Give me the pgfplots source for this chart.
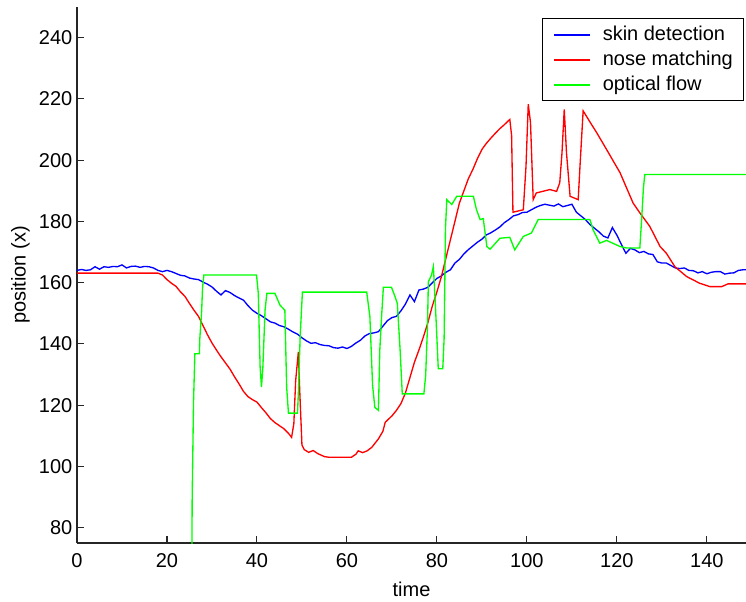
\documentclass[border=0pt]{standalone}
\usepackage{fontspec}
\setmainfont{Liberation Sans}
\usepackage{pgfplots}
\pgfplotsset{compat=1.18}
\definecolor{mblue}{rgb}{0,0,1}
\definecolor{mred}{rgb}{1,0,0}
\definecolor{mgreen}{rgb}{0,1,0}
\begin{document}
\begin{tikzpicture}
\useasboundingbox (0,0) rectangle (559.5pt,450.75pt);
\begin{axis}[
  at={(57.75pt,43.5pt)}, anchor=south west,
  width=501.75pt, height=402pt, scale only axis,
  xmin=0, xmax=148.7, ymin=75, ymax=250,
  xtick={0,20,...,140}, ytick={80,100,...,240},
  axis x line=bottom, axis y line=left,
  axis line style={-, line width=0.9pt, black!85},
  tick align=inside, major tick length=5pt,
  tick style={line width=0.8pt, black!85},
  /pgf/number format/assume math mode=true,
  tick label style={font=\fontsize{15}{18}\selectfont},
  xticklabel style={yshift=-4pt},
  label style={font=\fontsize{15}{18}\selectfont},
  xlabel={time}, ylabel={position (x)},
  xlabel style={yshift=-4.5pt},
  clip=true,
  legend cell align=left,
  legend image code/.code={\draw[#1, line width=1pt] (0pt,0pt) -- (27pt,0pt);},
  legend style={at={(1,1)}, anchor=north east, xshift=-1.5pt, yshift=-8.5pt,
    draw=black, line width=0.75pt, inner xsep=8pt, inner ysep=5pt,
    row sep=4.75pt, column sep=9pt,
    nodes={inner sep=0pt, text height=11pt, text depth=3pt, font=\fontsize{15}{18}\selectfont}},
]
\addplot[mblue, line width=1pt] coordinates {
(0,164.0)(1,164.3)(2,164.0)(3,164.2)(4,165.2)(5,164.4)(6,165.2)(7,165.0)(8,165.3)(9,165.2)
(10,165.8)(11,164.8)(12,165.3)(13,165.4)(14,165.0)(15,165.3)(16,165.2)(17,164.8)(18,164.0)(19,163.6)
(20,164.0)(21,163.6)(22,163.0)(23,162.4)(24,162.2)(25,161.5)(26,161.2)(27,161.0)(28,160.2)(29,159.5)
(30,158.6)(31,157.2)(32,156.0)(33,157.4)(34,156.8)(35,155.8)(36,155.0)(37,154.3)(38,152.5)(39,151.0)
(40,150.0)(41,149.2)(42,148.2)(43,147.2)(44,146.8)(45,146.0)(46,145.6)(47,144.8)(48,143.9)(49,143.2)
(50,142.0)(51,141.0)(52,140.2)(53,140.4)(54,139.8)(55,139.5)(56,139.4)(57,138.8)(58,138.6)(59,139.0)
(60,138.5)(61,139.2)(62,140.3)(63,141.2)(64,142.6)(65,143.4)(66,143.6)(67,144.0)(68,145.8)(69,147.6)
(70,148.6)(71,149.0)(72,150.8)(73,153.0)(74,156.0)(75,153.8)(76,157.6)(77,157.9)(78,158.5)(79,160.0)
(80,161.4)(81,162.2)(82,163.4)(83,164.2)(84,166.4)(85,167.6)(86,169.4)(87,170.8)(88,172.0)(89,173.2)
(90,174.2)(91,175.6)(92,176.3)(93,177.2)(94,178.2)(95,179.6)(96,180.6)(97,181.8)(98,182.2)(99,182.9)
(100,183.0)(101,183.8)(102,184.6)(103,185.2)(104,185.6)(105,185.3)(106,185.0)(107,185.7)(108,184.8)(109,185.2)
(110,185.6)(111,183.0)(112,181.8)(113,180.6)(114,179.0)(115,177.8)(116,176.6)(117,175.2)(118,174.6)(119,178.0)
(120,175.5)(121,172.5)(122,169.6)(123,171.2)(124,170.7)(125,169.8)(126,170.2)(127,169.4)(128,169.2)(129,166.8)
(130,166.4)(131,166.4)(132,165.6)(133,164.8)(134,164.6)(135,164.8)(136,164.0)(137,163.9)(138,163.2)(139,163.6)
(140,162.9)(141,163.4)(142,163.6)(143,163.6)(144,162.8)(145,163.1)(146,163.2)(147,164.0)(148,164.2)(149,164.2)
};
\addplot[mred, line width=1pt] coordinates {
(0,163.1)(18,163.1)(19,162.5)(20,161.0)(21,159.8)(22,158.8)(23,157.0)(24,155.5)(25,153.2)(26,151.0)
(27,149.0)(28,146.0)(29,143.0)(30,140.3)(31,138.0)(32,135.8)(33,133.8)(34,131.8)(35,129.3)(36,127.0)
(37,124.5)(38,122.8)(39,121.8)(40,121.0)(41,119.2)(42,117.5)(43,115.6)(44,114.3)(45,113.3)(46,112.3)
(47,110.8)(47.7,109.5)(48.2,114)(48.6,128)(49.2,137.4)(49.5,125)(50.0,107)(50.5,105.5)(51.5,104.6)(52.5,105.2)
(53.5,104.2)(55,103.2)(56,103)(61,103)(62,104)(62.5,105.1)(63.5,104.5)(64.5,105.1)(65.5,106.2)(67,109)
(68,111.5)(68.5,114.4)(70,116.5)(71,118.3)(72,120.5)(73,124)(74,129)(75,134)(76,138)(77,142.3)
(78,147)(79,152.5)(80,157)(81,162)(82,168)(83,174)(84,180)(85,186)(86,190)(87,194)
(88,197)(89,200.5)(90,203.5)(91,205.5)(92,207.2)(93,208.8)(94,210.3)(95,211.6)(96.2,213.3)(96.6,208)
(96.9,183)(99.2,183.8)(99.8,198)(100.3,218.3)(100.8,212.3)(101.4,187.1)(102.1,189.3)(105.1,190.4)(106.6,189.8)(107.3,192.6)
(107.8,202.4)(108.3,216.6)(108.8,202.4)(109.6,188.2)(111.4,187.1)(111.8,198)(112.5,216.1)(114,212.5)(115.5,209)(117.7,203.5)
(120.7,195.9)(123.6,186)(125.1,182.8)(127.3,178.4)(129.6,171.8)(131,169.6)(132.9,165.2)(135.5,162)(138.4,159.8)(140.7,158.7)
(143.3,158.7)(144.7,159.6)(149,159.6)
};
\addplot[mgreen, line width=1pt] coordinates {
(25.5,60)(25.6,89.8)(25.9,121)(26.2,136.8)(27.2,136.8)(27.3,141.8)(27.7,150.5)(27.9,158.2)(28.2,162.5)(39.9,162.5)
(40.3,156.5)(40.7,132.5)(41.0,125.9)(41.3,131.9)(41.8,151)(42.2,156.5)(44.0,156.5)(45.1,152.7)(46.2,151)(46.6,125.9)
(47.0,117.4)(49.0,117.4)(49.2,123.7)(49.6,142.3)(50.1,156.9)(64.4,156.9)(65.1,148.9)(65.7,126.5)(66.2,119.3)(67.0,118.3)
(67.3,137.9)(67.7,148.9)(68.1,158.5)(69.9,158.5)(70.7,155.4)(71.2,153.2)(71.8,138.5)(72.3,123.7)(77.1,123.7)(77.5,129.7)
(77.9,145.6)(78.1,160.3)(78.8,162.5)(79.2,165.2)(79.4,160.3)(79.8,148.3)(80.3,131.9)(81.3,131.9)(81.6,141.8)(81.9,177.8)
(82.2,187.1)(83.3,185.5)(84.4,188.2)(88.1,188.2)(88.8,183.8)(89.6,180.6)(90.3,180.9)(91.1,171.8)(91.8,170.9)(94.0,174.5)
(96.2,174.8)(97.3,170.7)(99.2,175.1)(101.0,176.2)(102.5,180.6)(114.0,180.6)(114.7,177.3)(116.2,172.9)(117.7,173.8)(120.7,171.8)
(122.2,171.3)(125.1,171.3)(125.5,180.6)(125.9,190.9)(126.2,195.3)(149,195.3)
};
\legend{skin detection, nose matching, optical flow}
\end{axis}
\end{tikzpicture}
\end{document}
